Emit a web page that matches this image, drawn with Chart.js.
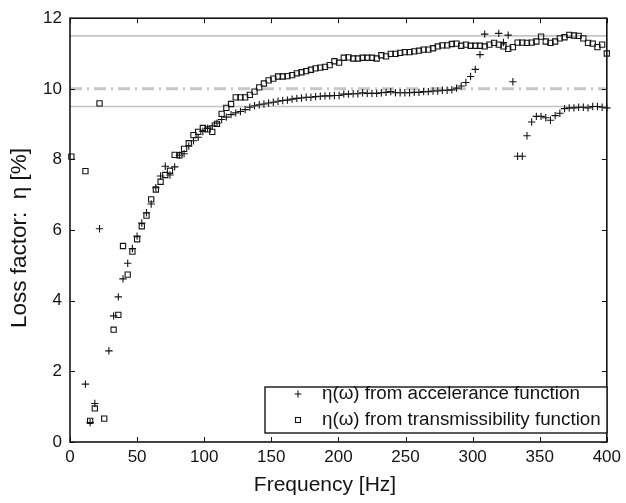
<!DOCTYPE html>
<html>
<head>
<meta charset="utf-8">
<script src="https://cdn.jsdelivr.net/npm/chart.js@4.4.0/dist/chart.umd.min.js"></script>
<style>
  html, body { margin: 0; padding: 0; background: #fff; }
  #wrap { width: 626px; height: 503px; }
</style>
</head>
<body>
<div id="wrap"><canvas id="plot"></canvas></div>
<script>
// frequency grid of the measurement [Hz]
const frequency = [
  1, 4.5, 8, 11.5, 15, 18.5, 22, 25.5, 29, 32.5, 36, 39.5, 43, 46.5, 50, 53.5, 57, 60.5, 64, 67.5,
  71, 74.5, 78, 81.5, 85, 88.5, 92, 95.5, 99, 102.5, 106, 109.5, 113, 116.5, 120, 123.5, 127, 130.5, 134, 137.5,
  141, 144.5, 148, 151.5, 155, 158.5, 162, 165.5, 169, 172.5, 176, 179.5, 183, 186.5, 190, 193.5, 197, 200.5, 204, 207.5,
  211, 214.5, 218, 221.5, 225, 228.5, 232, 235.5, 239, 242.5, 246, 249.5, 253, 256.5, 260, 263.5, 267, 270.5, 274, 277.5,
  281, 284.5, 288, 291.5, 295, 298.5, 302, 305.5, 309, 312.5, 316, 319.5, 323, 326.5, 330, 333.5, 337, 340.5, 344, 347.5,
  351, 354.5, 358, 361.5, 365, 368.5, 372, 375.5, 379, 382.5, 386, 389.5, 393, 396.5, 400
];

// loss factor [%] from accelerance function
const accelerance = [
  null, null, null, 1.64, 0.55, 1.09, 6.04, null, 2.58, 3.57, 4.11, 4.62, 5.06, 5.48, 5.83, 6.20, 6.49, 6.74, 7.20, 7.53,
  7.81, 7.56, 7.79, 8.12, 8.16, 8.38, 8.53, 8.63, 8.79, 8.88, 8.95, 9.03, 9.13, 9.20, 9.27, 9.32, 9.36, 9.41, 9.48, 9.52,
  9.55, 9.57, 9.60, 9.62, 9.65, 9.67, 9.68, 9.71, 9.73, 9.74, 9.76, 9.76, 9.78, 9.79, 9.80, 9.80, 9.81, 9.81, 9.85, 9.85,
  9.86, 9.86, 9.89, 9.87, 9.87, 9.87, 9.89, 9.90, 9.92, 9.89, 9.89, 9.89, 9.89, 9.90, 9.90, 9.92, 9.92, 9.94, 9.94, 9.96,
  9.96, 9.97, 10.02, 10.08, 10.18, 10.35, 10.55, 10.97, 11.55, null, null, 11.57, 11.31, 11.52, 10.20, 8.09, 8.09, 8.67, 9.06, 9.22,
  9.22, 9.18, 9.11, 9.24, 9.31, 9.44, 9.46, 9.46, 9.48, 9.48, 9.46, 9.50, 9.50, 9.48, 9.46
];

// loss factor [%] from transmissibility function
const transmissibility = [
  8.08, null, null, 7.67, 0.60, 0.95, 9.59, 0.66, null, 3.18, 3.60, 5.55, 4.74, 5.39, 5.74, 6.11, 6.41, 6.87, 7.15, 7.37,
  7.56, 7.68, 8.13, 8.12, 8.30, 8.46, 8.69, 8.78, 8.89, 8.85, 8.78, 9.01, 9.29, 9.46, 9.57, 9.76, 9.76, 9.76, 9.83, 9.92,
  10.04, 10.15, 10.24, 10.29, 10.35, 10.35, 10.36, 10.39, 10.44, 10.47, 10.50, 10.54, 10.58, 10.60, 10.62, 10.67, 10.78, 10.74, 10.88, 10.89,
  10.86, 10.86, 10.88, 10.88, 10.88, 10.86, 10.95, 10.92, 10.99, 10.99, 11.02, 11.04, 11.04, 11.06, 11.08, 11.11, 11.11, 11.15, 11.20, 11.23,
  11.23, 11.27, 11.28, 11.22, 11.25, 11.22, 11.22, 11.22, 11.20, 11.25, 11.30, 11.25, 11.20, 11.13, 11.18, 11.31, 11.31, 11.30, 11.31, 11.34,
  11.48, 11.34, 11.30, 11.34, 11.43, 11.46, 11.53, 11.51, 11.50, 11.43, 11.30, 11.28, 11.18, 11.25, 11.00
];

const seriesLabels = ['η(ω) from accelerance function', 'η(ω) from transmissibility function'];
const bandLimits = [11.5, 9.5];   // solid grey lines
const nominalLevel = 10;          // dash-dot grey line
const xRange = [0, 400];
const xTicks = [0, 50, 100, 150, 200, 250, 300, 350, 400];
const yTicks = [0, 2, 4, 6, 8, 10, 12];
const xTitle = 'Frequency [Hz]';
const yTitle = 'Loss factor:  η [%]';

const FONT = '"Liberation Sans", Arial, Helvetica, sans-serif';
const INK = '#141414';
Chart.defaults.font.family = FONT;
Chart.defaults.color = INK;

function toPoints(values) {
  return values.map((v, i) => ({ x: frequency[i], y: v }));
}
function flatLine(level) {
  return xRange.map((f) => ({ x: f, y: level }));
}

// frame, inward ticks, axis titles and legend box
const frameAndLegend = {
  id: 'frameAndLegend',
  afterDatasetsDraw(chart) {
    const { ctx, chartArea: a, scales: { x, y } } = chart;
    ctx.save();
    ctx.strokeStyle = INK;
    ctx.lineWidth = 1;
    ctx.beginPath();
    x.ticks.forEach((t) => {
      const px = Math.round(x.getPixelForValue(t.value)) + 0.5;
      ctx.moveTo(px, a.bottom); ctx.lineTo(px, a.bottom - 5);
      ctx.moveTo(px, a.top); ctx.lineTo(px, a.top + 5);
    });
    y.ticks.forEach((t) => {
      const py = Math.round(y.getPixelForValue(t.value)) + 0.5;
      ctx.moveTo(a.left, py); ctx.lineTo(a.left + 5, py);
      ctx.moveTo(a.right, py); ctx.lineTo(a.right - 5, py);
    });
    ctx.stroke();
    ctx.lineWidth = 1.6;
    ctx.strokeRect(a.left, a.top, a.right - a.left, a.bottom - a.top);

    // legend
    const lx = 265, ly = 387, lw = 342, lh = 46;
    ctx.fillStyle = '#fff';
    ctx.fillRect(lx, ly, lw, lh);
    ctx.lineWidth = 1.4;
    ctx.strokeRect(lx, ly, lw, lh);
    const rows = [ly + 7, ly + 33];
    ctx.lineWidth = 1.1;
    ctx.beginPath();
    ctx.moveTo(298 - 3.5, rows[0]); ctx.lineTo(298 + 3.5, rows[0]);
    ctx.moveTo(298, rows[0] - 3.5); ctx.lineTo(298, rows[0] + 3.5);
    ctx.stroke();
    ctx.strokeRect(295.5, rows[1] - 2.5, 5, 5);
    ctx.fillStyle = INK;
    ctx.font = '18.8px ' + FONT;
    ctx.textBaseline = 'middle';
    ctx.textAlign = 'left';
    ctx.fillText(seriesLabels[0], 322, rows[0]);
    ctx.fillText(seriesLabels[1], 322, rows[1]);

    // axis titles
    ctx.textAlign = 'center';
    ctx.font = '21px ' + FONT;
    ctx.fillText(xTitle, 325, 485);
    ctx.translate(20, 238);
    ctx.rotate(-Math.PI / 2);
    ctx.font = '22.5px ' + FONT;
    ctx.fillText(yTitle, 0, 0);
    ctx.restore();
  }
};

new Chart(document.getElementById('plot'), {
  type: 'scatter',
  data: {
    datasets: [
      {
        label: seriesLabels[0],
        data: toPoints(accelerance),
        pointStyle: 'cross',
        pointRadius: 3.7,
        borderColor: INK,
        backgroundColor: 'transparent',
        pointBorderWidth: 1.1,
        clip: false,
        order: 0,
      },
      {
        label: seriesLabels[1],
        data: toPoints(transmissibility),
        pointStyle: 'rect',
        pointRadius: 3.7,
        borderColor: INK,
        backgroundColor: 'transparent',
        pointBorderWidth: 1.1,
        clip: false,
        order: 1,
      },
      {
        label: 'upper limit',
        data: flatLine(bandLimits[0]),
        showLine: true,
        borderColor: '#c4c4c4',
        borderWidth: 1.6,
        pointRadius: 0,
        order: 5,
      },
      {
        label: 'lower limit',
        data: flatLine(bandLimits[1]),
        showLine: true,
        borderColor: '#c4c4c4',
        borderWidth: 1.6,
        pointRadius: 0,
        order: 5,
      },
      {
        label: 'nominal',
        data: flatLine(nominalLevel),
        showLine: true,
        borderColor: '#c8c8c8',
        borderWidth: 3,
        borderDash: [12, 5, 2, 5],
        pointRadius: 0,
        order: 5,
      },
    ],
  },
  options: {
    responsive: true,
    maintainAspectRatio: false,
    animation: false,
    layout: { padding: { top: 13, right: 13, left: 0, bottom: 0 } },
    scales: {
      x: {
        type: 'linear',
        min: 0,
        max: 400,
        afterBuildTicks: (scale) => { scale.ticks = xTicks.map((v) => ({ value: v })); },
        afterFit: (scale) => { scale.height = 61; },
        grid: { display: false, drawTicks: false },
        border: { display: false },
        ticks: { padding: 5, font: { size: 17 }, color: INK, maxRotation: 0 },
      },
      y: {
        type: 'linear',
        min: 0,
        max: 12,
        afterBuildTicks: (scale) => { scale.ticks = yTicks.map((v) => ({ value: v })); },
        afterFit: (scale) => { scale.width = 70; },
        grid: { display: false, drawTicks: false },
        border: { display: false },
        ticks: { padding: 8, font: { size: 17 }, color: INK },
      },
    },
    plugins: {
      legend: { display: false },
      tooltip: { enabled: false },
    },
  },
  plugins: [frameAndLegend],
});
</script>
</body>
</html>
